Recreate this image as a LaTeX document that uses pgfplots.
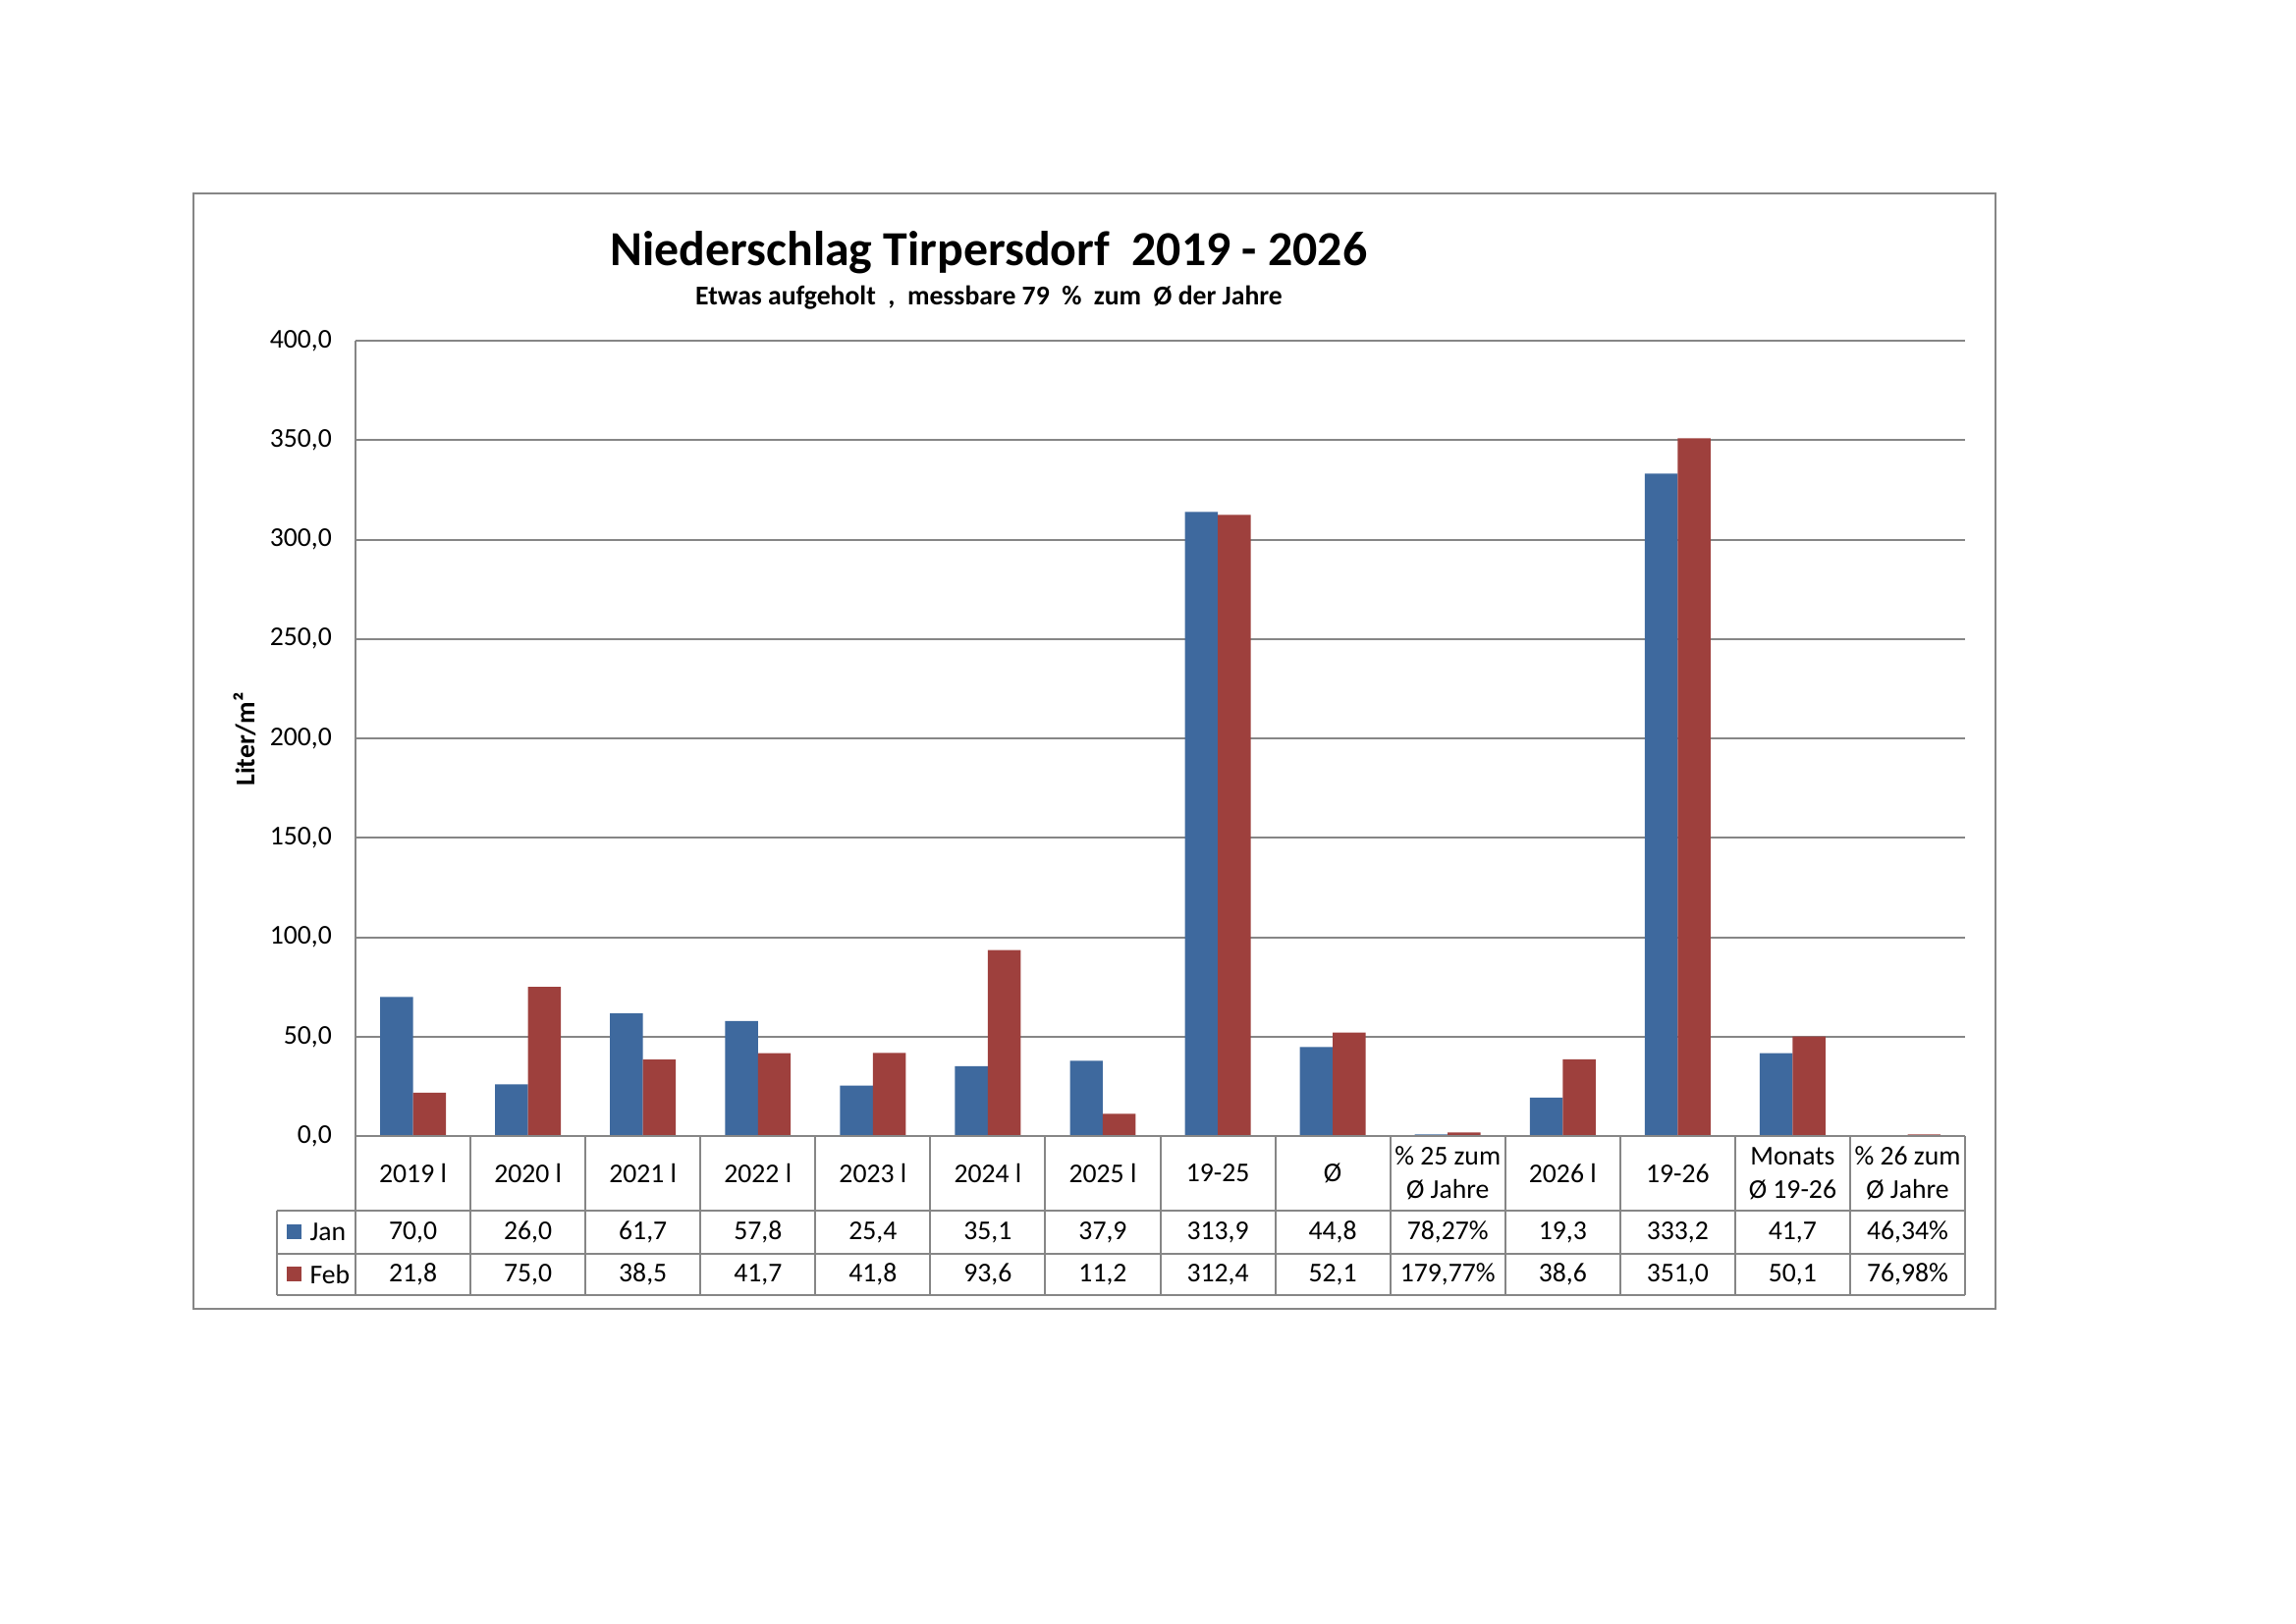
\documentclass[border=0pt]{standalone}
\usepackage{fontspec}
\setmainfont{Carlito}
\usepackage{pgfplots}
\usepackage{pgfplotstable}
\pgfplotsset{compat=1.18}
\definecolor{janc}{RGB}{62,105,158}
\definecolor{febc}{RGB}{158,64,61}
\definecolor{gridc}{RGB}{134,134,134}

\pgfplotstableread{
x jan feb
0 70.0 21.8
1 26.0 75.0
2 61.7 38.5
3 57.8 41.7
4 25.4 41.8
5 35.1 93.6
6 37.9 11.2
7 313.9 312.4
8 44.8 52.1
9 0.7827 1.7977
10 19.3 38.6
11 333.2 351.0
12 41.7 50.1
13 0.4634 0.7698
}\datatable

\begin{document}
\begin{tikzpicture}
\begin{scope}[x=0.127mm,y=-0.127mm]
\path[use as bounding box] (0,0) rectangle (2338,1653);
\draw[gridc, line width=0.28mm] (197,197) rectangle (2032,1333);
\end{scope}
\begin{axis}[
 at={(45.974mm,-146.939mm)}, anchor=south west,
 scale only axis, width=208.15mm, height=102.87mm,
 ybar=0pt, bar width=4.25mm,
 xmin=-0.5, xmax=13.5, ymin=0, ymax=400,
 xtick=\empty, ytick={0,50,100,150,200,250,300,350,400},
 ymajorgrids, major grid style={gridc, line width=0.25mm},
 axis line style={draw=none}, tick style={draw=none},
 yticklabel style={font=\fontsize{10}{12}\selectfont, anchor=east, inner xsep=0pt, xshift=-3mm},
 yticklabel={\pgfmathprintnumber[fixed,fixed zerofill,precision=1,use comma,1000 sep={},assume math mode=true]{\tick}},
]
\addplot[fill=janc, draw=none] table[x=x,y=jan]{\datatable};
\addplot[fill=febc, draw=none] table[x=x,y=feb]{\datatable};
\end{axis}
\begin{scope}[x=0.127mm,y=-0.127mm]
\def\cw{117.071}
\draw[gridc, line width=0.25mm] (362,347) -- (362,1319);
\draw[gridc, line width=0.25mm] (362,1157) -- (2001,1157);
\foreach \yy in {1233,1277,1319} \draw[gridc, line width=0.25mm] (282,\yy) -- (2001,\yy);
\draw[gridc, line width=0.25mm] (282,1233) -- (282,1319);
\foreach \k in {1,...,14} \draw[gridc, line width=0.25mm] ({362+\cw*\k},1157) -- ({362+\cw*\k},1319);
% headers
\foreach \t [count=\i from 0] in {{2019 l},{2020 l},{2021 l},{2022 l},{2023 l},{2024 l},{2025 l},{19-25},{Ø},{\% 25 zum\\Ø Jahre},{2026 l},{19-26},{Monats\\Ø 19-26},{\% 26 zum\\Ø Jahre}}
  \node[font=\fontsize{10}{12.2}\selectfont, align=center, inner sep=0pt] at ({362+\cw*(\i+0.5)},1195) {\t};
\foreach \t [count=\i from 0] in {{70,0},{26,0},{61,7},{57,8},{25,4},{35,1},{37,9},{313,9},{44,8},{78,27\%},{19,3},{333,2},{41,7},{46,34\%}}
  \node[font=\fontsize{10}{12}\selectfont, inner sep=0pt] at ({362+\cw*(\i+0.5)},1255) {\t};
\foreach \t [count=\i from 0] in {{21,8},{75,0},{38,5},{41,7},{41,8},{93,6},{11,2},{312,4},{52,1},{179,77\%},{38,6},{351,0},{50,1},{76,98\%}}
  \node[font=\fontsize{10}{12}\selectfont, inner sep=0pt] at ({362+\cw*(\i+0.5)},1298) {\t};
% legend
\fill[janc] (292,1247) rectangle (307,1262);
\fill[febc] (292,1290) rectangle (307,1305);
\node[font=\fontsize{10}{12}\selectfont, anchor=west, inner sep=0pt] at (315,1255) {Jan};
\node[font=\fontsize{10}{12}\selectfont, anchor=west, inner sep=0pt] at (315,1298) {Feb};
% titles
\node[font=\bfseries\fontsize{18}{22}\selectfont, anchor=base, inner sep=0pt] at (1007,270) {Niederschlag Tirpersdorf\ \ 2019 - 2026};
\node[font=\bfseries\fontsize{10}{12}\selectfont, anchor=base, inner sep=0pt] at (1007,310) {Etwas aufgeholt\ \ ,\ \ messbare 79\ \ \%\ \ zum\ \ Ø der Jahre};
\node[font=\bfseries\fontsize{10}{12}\selectfont, rotate=90, inner sep=0pt] at (249,753) {Liter/m²};
\end{scope}
\end{tikzpicture}
\end{document}
